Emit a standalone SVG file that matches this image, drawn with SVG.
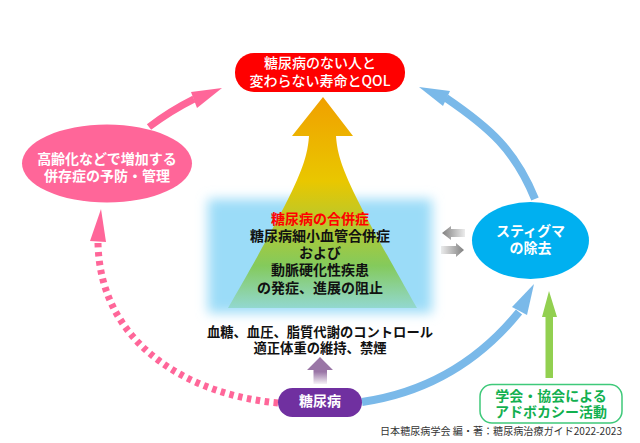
<svg xmlns="http://www.w3.org/2000/svg" width="640" height="443" viewBox="0 0 640 443">
<style>
text{font-family:"Noto Sans CJK JP","Noto Sans",sans-serif;font-size:14px;font-weight:700;text-anchor:middle}
.w{fill:#fff}.k{fill:#111}
.s{font-size:13.300px}
.m{font-weight:500}
.pk{fill:none;stroke:#ff6699;stroke-width:7}
.bl{fill:none;stroke:#7ab9e9;stroke-width:8}
</style>
<defs>
<filter id="blur" x="-15%" y="-25%" width="130%" height="150%"><feGaussianBlur stdDeviation="6"/></filter>
<linearGradient id="up" gradientUnits="userSpaceOnUse" x1="0" y1="97" x2="0" y2="308">
<stop offset="0" stop-color="#f0a000"/><stop offset=".4" stop-color="#e9c700"/><stop offset=".8" stop-color="#84ca5c"/><stop offset="1" stop-color="#92d8d0"/>
</linearGradient>
<linearGradient id="pu" gradientUnits="userSpaceOnUse" x1="0" y1="357" x2="0" y2="384">
<stop offset="0" stop-color="#9a76a6"/><stop offset=".55" stop-color="#9a76a6"/><stop offset="1" stop-color="#9a76a6" stop-opacity=".1"/>
</linearGradient>
<linearGradient id="gl" gradientUnits="userSpaceOnUse" x1="442" y1="0" x2="465" y2="0">
<stop offset="0" stop-color="#808080"/><stop offset="1" stop-color="#808080" stop-opacity=".15"/>
</linearGradient>
<linearGradient id="gr" gradientUnits="userSpaceOnUse" x1="441" y1="0" x2="464" y2="0">
<stop offset="0" stop-color="#808080" stop-opacity=".15"/><stop offset="1" stop-color="#808080"/>
</linearGradient>
</defs>
<rect width="640" height="443" fill="#fff"/>
<rect x="208" y="199" width="224" height="114" fill="#9bdcf8" filter="url(#blur)"/>
<g id="connectors">
<path d="M323 97L353 136H336C338 165 350 190 417 308H228C296 190 307 165 309 136H292Z" fill="url(#up)"/>
<path class="pk" d="M149 127Q170 111 194 99"/>
<polygon points="222,88 197,108 191,92" fill="#ff6699"/>
<path class="pk" stroke-dasharray="4.5 4.5" d="M278 403C190 395 100 345 98 243"/>
<polygon points="101,209 106,242 90,241" fill="#ff6699"/>
<path class="bl" d="M362 402C430 392 480 360 519 312"/>
<polygon points="534,284 527,315 512,307" fill="#7ab9e9"/>
<path class="bl" d="M535 199C515 150 490 128 446 98"/>
<polygon points="419,87 450,91 443,106" fill="#7ab9e9"/>
<polygon points="549,291 557,317 553,317 553,378 545.500,378 545.500,317 542,317" fill="#92d050"/>
<polygon points="320,357 333,370 327,370 327,384 313.500,384 313.500,370 307,370" fill="url(#pu)"/>
<polygon points="442,233 451,226 451,229 465,229 465,237 451,237 451,240" fill="url(#gl)"/>
<polygon points="464,250 456,243 456,246 441,246 441,254 456,254 456,257" fill="url(#gr)"/>
</g>
<g id="goal">
<rect x="235" y="53" width="170" height="39" rx="19" fill="#ff0000"/>
<text class="w m" x="320" y="68">糖尿病のない人と</text>
<text class="w m" x="320" y="86">変わらない寿命とQOL</text>
</g>
<g id="comorbidity">
<ellipse cx="107" cy="163.500" rx="85" ry="39" fill="#ff6699"/>
<text class="w" x="107" y="164">高齢化などで増加する</text>
<text class="w" x="107" y="181">併存症の予防・管理</text>
</g>
<g id="stigma">
<ellipse cx="530.500" cy="240.500" rx="58.500" ry="38.500" fill="#00b0f0"/>
<text class="w" x="530.500" y="236">スティグマ</text>
<text class="w" x="530.500" y="253">の除去</text>
</g>
<g id="center">
<text x="320" y="224" fill="#ff0000">糖尿病の合併症</text>
<text class="k" x="320" y="241">糖尿病細小血管合併症</text>
<text class="k" x="320" y="258">および</text>
<text class="k" x="320" y="275">動脈硬化性疾患</text>
<text class="k" x="320" y="293">の発症、進展の阻止</text>
</g>
<g id="control">
<text class="k s" x="320" y="337">血糖、血圧、脂質代謝のコントロール</text>
<text class="k s" x="320" y="353">適正体重の維持、禁煙</text>
</g>
<g id="diabetes">
<rect x="278" y="388" width="84" height="29" rx="14.500" fill="#7030a0"/>
<text class="w" x="320" y="406">糖尿病</text>
</g>
<g id="advocacy">
<rect x="480" y="384.500" width="142" height="38.500" rx="12" fill="#fff" stroke="#3fc97a" stroke-width="1.500"/>
<text x="551" y="401" fill="#12b04f">学会・協会による</text>
<text x="551" y="417" fill="#12b04f">アドボカシー活動</text>
</g>
<text x="501" y="435" fill="#333" style="font-size:10px;font-weight:400" textLength="242" lengthAdjust="spacingAndGlyphs">日本糖尿病学会 編・著：糖尿病治療ガイド2022-2023</text>
</svg>
